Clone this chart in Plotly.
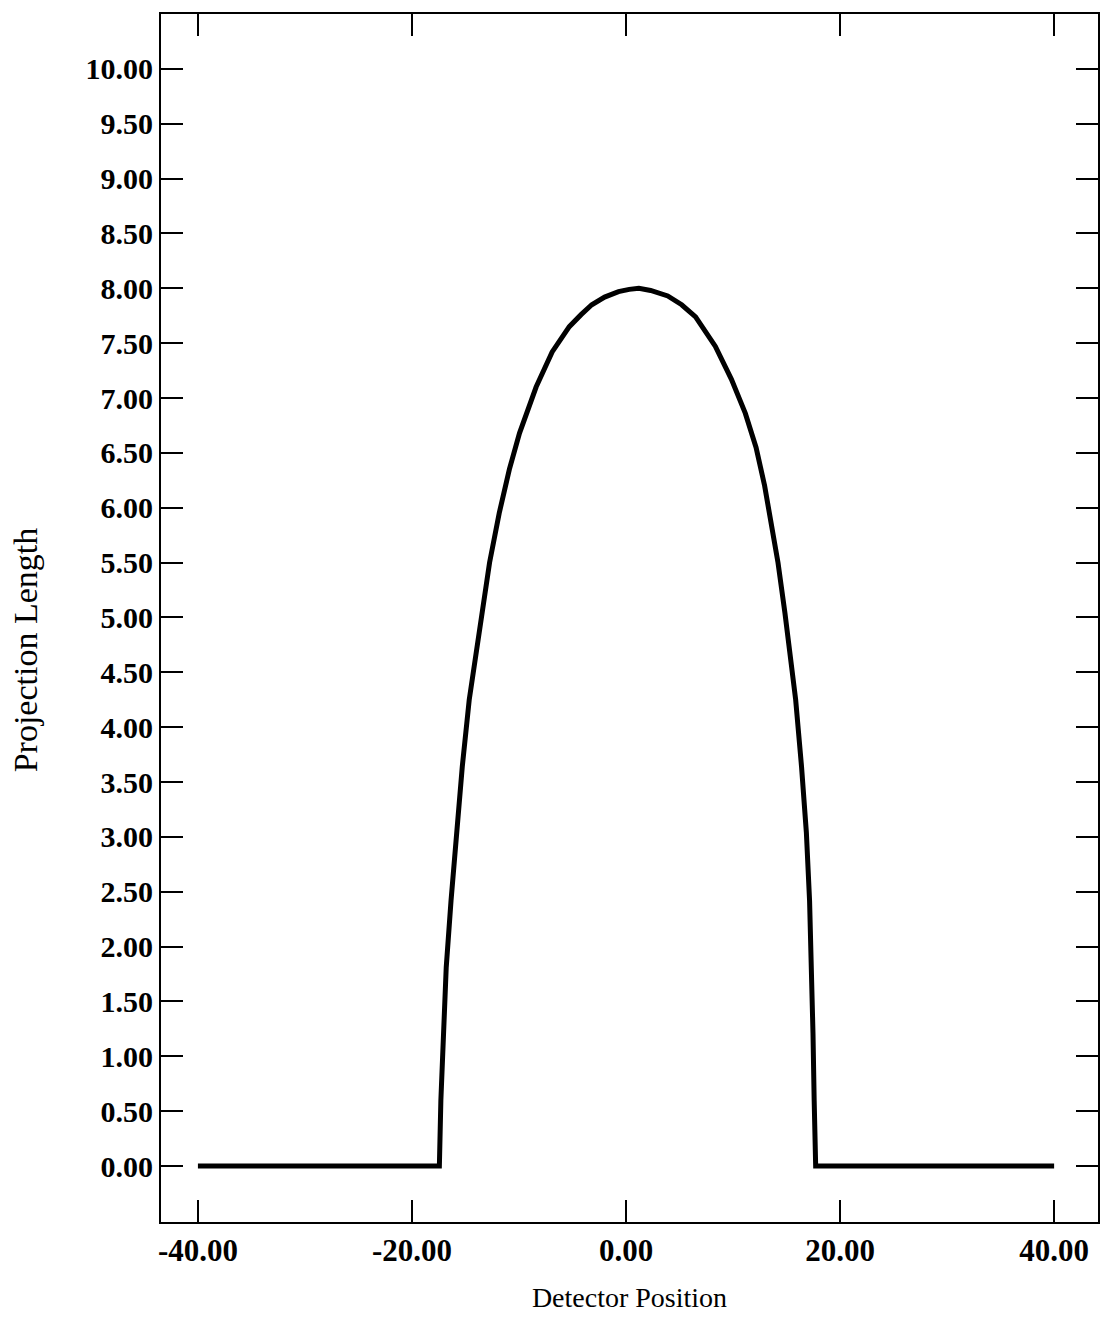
import plotly.graph_objects as go

# Detector position (x) and projection length (y)
detector_position = [-40.0, -17.44, -17.30, -17.10, -16.80, -16.35, -15.85, -15.30,
                     -14.65, -14.00, -13.40, -12.75, -11.85, -10.90, -9.95, -8.40,
                     -6.90, -5.30, -4.20, -3.20, -2.00, -0.70, 0.30, 1.2, 2.30, 3.9,
                     5.20, 6.50, 8.35, 9.85, 11.15,
                     12.15, 12.95, 13.60, 14.20, 14.85, 15.35, 15.85, 16.40, 16.85,
                     17.15, 17.35, 17.47, 17.58, 17.72, 40.0]
projection_length = [0.0, 0.0, 0.60, 1.21, 1.81, 2.42, 3.04, 3.64,
                     4.25, 4.70, 5.10, 5.50, 5.95, 6.35, 6.68, 7.10,
                     7.42, 7.65, 7.76, 7.85, 7.92, 7.97, 7.99, 8.0, 7.98, 7.93,
                     7.85, 7.74, 7.47, 7.17, 6.86,
                     6.55, 6.20, 5.85, 5.50, 5.04, 4.68, 4.25, 3.64, 3.04,
                     2.42, 1.81, 1.21, 0.60, 0.0, 0.0]

x_ticks = [-40, -20, 0, 20, 40]
x_tick_text = ["-40.00", "-20.00", "0.00", "20.00", "40.00"]
y_ticks = [i * 0.5 for i in range(21)]
y_tick_text = [f"{v:.2f}" for v in y_ticks]

fig = go.Figure()
fig.add_trace(go.Scatter(
    x=detector_position, y=projection_length, mode="lines",
    line=dict(color="black", width=5),
    showlegend=False, hoverinfo="skip"))

fig.update_layout(
    width=1104, height=1339,
    margin=dict(l=161, r=4, t=14, b=117),
    paper_bgcolor="white", plot_bgcolor="white",
    font=dict(family="Liberation Serif", color="black"),
)
fig.update_xaxes(
    range=[-43.45, 44.10], tickvals=x_ticks, ticktext=x_tick_text,
    showline=True, linecolor="black", linewidth=2, mirror="ticks",
    ticks="inside", ticklen=22, tickwidth=2, tickcolor="black",
    showgrid=False, zeroline=False,
    tickfont=dict(family="Liberation Serif", size=31, weight="bold"),
    title=dict(text="Detector Position", standoff=20,
               font=dict(family="Liberation Serif", size=28)),
)
fig.update_yaxes(
    range=[-0.51, 10.50], tickvals=y_ticks, ticktext=y_tick_text,
    showline=True, linecolor="black", linewidth=2, mirror="ticks",
    ticks="inside", ticklen=22, tickwidth=2, tickcolor="black",
    showgrid=False, zeroline=False,
    tickfont=dict(family="Liberation Serif", size=30, weight="bold"),
    ticklabelstandoff=0,
)
fig.add_annotation(
    text="Projection Length", textangle=-90, showarrow=False,
    xref="paper", yref="paper", x=-0.1448, y=0.4735,
    xanchor="center", yanchor="middle",
    font=dict(family="Liberation Serif", size=34, color="black"),
)

fig.write_html("out.html")
